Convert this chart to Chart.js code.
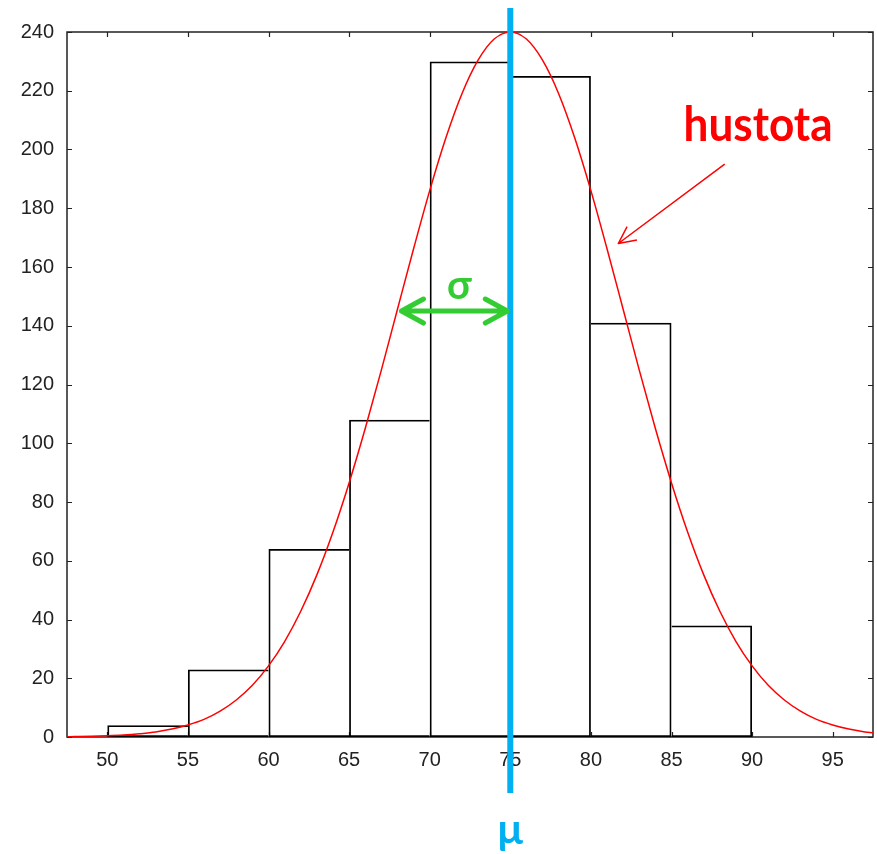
<!DOCTYPE html>
<html><head><meta charset="utf-8">
<script src="https://cdn.jsdelivr.net/npm/chart.js@4/dist/chart.umd.min.js"></script>
<style>html,body{margin:0;padding:0;background:#fff}#wrap{width:877px;height:854px}</style>
</head><body><div id="wrap"><canvas id="c" width="877" height="854"></canvas></div>
<script>
// Histogram bins (centres) and counts
const binCenters = [52.5, 57.5, 62.5, 67.5, 72.5, 77.5, 82.5, 87.5];
const binCounts  = [4, 23, 64, 108, 230, 225, 141, 38];
// Density curve ("hustota")
const curveX = [47.5,48,49,50,51,52,53,54,55,56,57,58,59,60,61,62,63,64,65,66,67,68,69,70,71,72,73,74,75,76,77,78,79,80,81,82,83,84,85,86,87,88,89,90,91,92,93,94,95,96,97,97.5];
const curveY = [0.1,0.14,0.24,0.41,0.67,1.1,1.7,2.7,4.1,6.0,8.8,12.6,17.6,24.2,32.5,42.8,55.2,69.8,86.5,105,124.9,145.6,166.2,186,203.9,219,230.4,237.6,240,237.6,230.4,219,203.9,186,166.2,145.6,124.9,105,86.5,69.8,55.2,42.8,32.5,24.2,17.6,12.6,8.8,6.0,4.1,2.7,1.7,1.4];
const xTickValues = [50,55,60,65,70,75,80,85,90,95];
const yTickValues = [0,20,40,60,80,100,120,140,160,180,200,220,240];
// Annotation values
const muValue = 75;
const sigmaValue = 7;
const sigmaArrowY = 145;
const densityLabel = 'hustota';
const densityLabelPos = {x: 85.75, y: 203};
const densityArrowFrom = {x: 88.3, y: 195};
const densityArrowTo = {x: 81.7, y: 168};

const BLUE = '#00b0f0';
const GREEN = '#33cc33';
const BW = 1.8;

// shared bar edges are drawn once, by the taller neighbour
function barBorder(c) {
  const i = c.dataIndex;
  const v = binCounts[i];
  const prev = binCounts[i - 1], next = binCounts[i + 1];
  return {
    top: BW, bottom: BW,
    left: (prev === undefined || v >= prev) ? BW : 0,
    right: (next === undefined || v > next) ? BW : 0
  };
}

const annot = {
  id: 'annot',
  beforeDatasetsDraw(chart) {
    const {ctx, chartArea: a, scales: {x, y}} = chart;
    ctx.save();
    ctx.strokeStyle = '#222';
    ctx.lineWidth = 1.5;
    ctx.strokeRect(a.left, a.top, a.right - a.left, a.bottom - a.top);
    ctx.lineWidth = 1.2;
    ctx.beginPath();
    xTickValues.forEach(v => {
      const px = Math.round(x.getPixelForValue(v)) + 0.5;
      ctx.moveTo(px, a.bottom); ctx.lineTo(px, a.bottom - 5);
      ctx.moveTo(px, a.top); ctx.lineTo(px, a.top + 5);
    });
    yTickValues.forEach(v => {
      const py = Math.round(y.getPixelForValue(v)) + 0.5;
      ctx.moveTo(a.left, py); ctx.lineTo(a.left + 5, py);
      ctx.moveTo(a.right, py); ctx.lineTo(a.right - 5, py);
    });
    ctx.stroke();
    ctx.restore();
  },
  afterDatasetsDraw(chart) {
    const {ctx, chartArea: a, scales: {x, y}} = chart;
    ctx.save();
    // mu line
    const mx = x.getPixelForValue(muValue);
    ctx.strokeStyle = BLUE;
    ctx.lineWidth = 6;
    ctx.beginPath();
    ctx.moveTo(mx, a.top - 24); ctx.lineTo(mx, a.bottom + 56);
    ctx.stroke();
    ctx.fillStyle = BLUE;
    ctx.font = 'bold 42px Lato';
    ctx.textAlign = 'center';
    ctx.textBaseline = 'alphabetic';
    ctx.fillText('\u03bc', mx, a.bottom + 107);
    // sigma arrow
    const sx0 = x.getPixelForValue(muValue - sigmaValue);
    const sx1 = mx - 3;
    const sy = y.getPixelForValue(sigmaArrowY);
    ctx.strokeStyle = GREEN;
    ctx.lineWidth = 5;
    ctx.lineCap = 'round';
    ctx.lineJoin = 'round';
    ctx.beginPath();
    ctx.moveTo(sx0 + 4, sy); ctx.lineTo(sx1, sy);
    ctx.moveTo(sx0 + 26, sy - 12); ctx.lineTo(sx0 + 4, sy); ctx.lineTo(sx0 + 26, sy + 12);
    ctx.moveTo(sx1 - 22, sy - 12); ctx.lineTo(sx1, sy); ctx.lineTo(sx1 - 22, sy + 12);
    ctx.stroke();
    ctx.fillStyle = GREEN;
    ctx.font = 'bold 40px Lato';
    ctx.textAlign = 'center';
    ctx.fillText('\u03c3', (sx0 + sx1) / 2 + 7, sy - 12);
    // density label + arrow
    ctx.fillStyle = '#ff0000';
    ctx.font = 'bold 48px Lato';
    ctx.textAlign = 'left';
    const tx = x.getPixelForValue(densityLabelPos.x);
    const ty = y.getPixelForValue(densityLabelPos.y);
    const w = ctx.measureText(densityLabel).width;
    ctx.translate(tx, ty);
    ctx.scale(149 / w, 1);
    ctx.fillText(densityLabel, 0, 0);
    ctx.setTransform(1, 0, 0, 1, 0, 0);
    const ax0 = x.getPixelForValue(densityArrowFrom.x), ay0 = y.getPixelForValue(densityArrowFrom.y);
    const ax1 = x.getPixelForValue(densityArrowTo.x), ay1 = y.getPixelForValue(densityArrowTo.y);
    ctx.strokeStyle = '#ff0000';
    ctx.lineWidth = 1.5;
    ctx.lineCap = 'butt';
    ctx.beginPath();
    ctx.moveTo(ax0, ay0); ctx.lineTo(ax1, ay1);
    const ang = Math.atan2(ay0 - ay1, ax0 - ax1);
    const hl = 19, ha = 0.45;
    ctx.moveTo(ax1 + hl * Math.cos(ang - ha), ay1 + hl * Math.sin(ang - ha));
    ctx.lineTo(ax1, ay1);
    ctx.lineTo(ax1 + hl * Math.cos(ang + ha), ay1 + hl * Math.sin(ang + ha));
    ctx.stroke();
    ctx.restore();
  }
};

new Chart(document.getElementById('c'), {
  type: 'bar',
  data: {
    datasets: [
      {
        type: 'line',
        data: curveX.map((v, i) => ({x: v, y: curveY[i]})),
        borderColor: '#ff0000',
        borderWidth: 1.5,
        pointRadius: 0,
        cubicInterpolationMode: 'monotone',
        fill: false,
        order: 0
      },
      {
        type: 'bar',
        data: binCenters.map((v, i) => ({x: v, y: binCounts[i]})),
        backgroundColor: 'rgba(0,0,0,0)',
        borderColor: '#000',
        borderWidth: barBorder,
        inflateAmount: 0,
        borderSkipped: false,
        barPercentage: 1,
        categoryPercentage: 1,
        order: 1
      }
    ]
  },
  options: {
    responsive: false,
    animation: false,
    layout: {padding: {top: 32, right: 4, bottom: 77, left: 0}},
    plugins: {legend: {display: false}, tooltip: {enabled: false}},
    scales: {
      x: {
        type: 'linear', min: 47.5, max: 97.5, offset: false,
        grid: {display: false, drawTicks: false, offset: false},
        border: {display: false},
        ticks: {stepSize: 5, padding: 11, color: '#222', font: {family: 'Liberation Sans', size: 20}},
        afterBuildTicks(s) { s.ticks = xTickValues.map(v => ({value: v})); },
        afterFit(s) { s.height = 40; }
      },
      y: {
        type: 'linear', min: 0, max: 240,
        grid: {display: false, drawTicks: false},
        border: {display: false},
        ticks: {stepSize: 20, padding: 13, color: '#222', font: {family: 'Liberation Sans', size: 20}},
        afterBuildTicks(s) { s.ticks = yTickValues.map(v => ({value: v})); },
        afterFit(s) { s.width = 67; }
      }
    }
  },
  plugins: [annot]
});
</script></body></html>
